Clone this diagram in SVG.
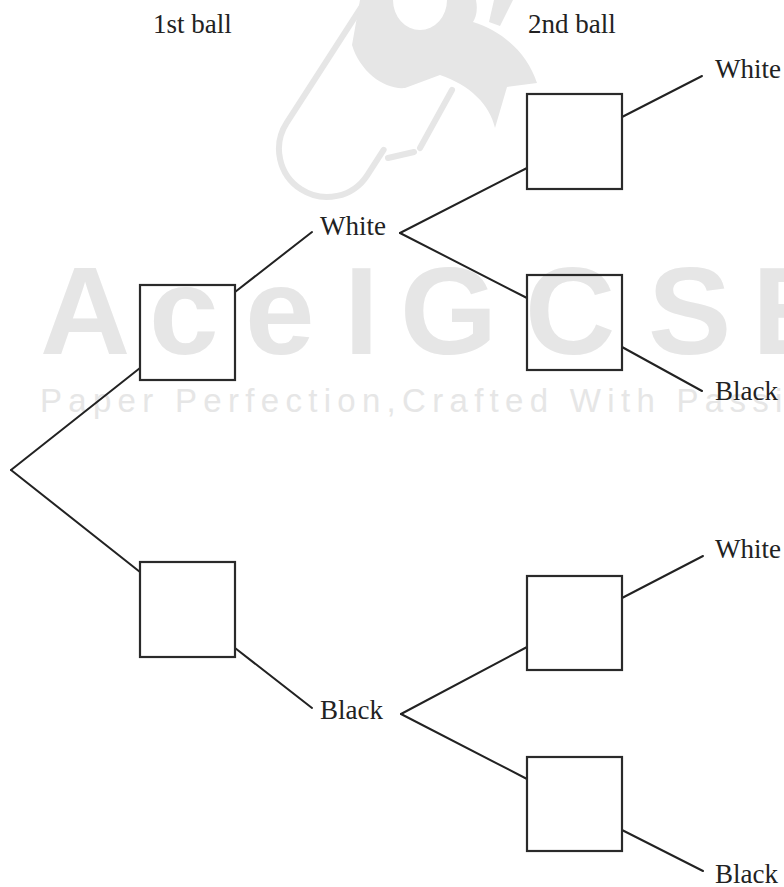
<svg xmlns="http://www.w3.org/2000/svg" width="784" height="887" viewBox="0 0 784 887">
<style>
.wm{fill:#e6e6e6}
.wms{fill:none;stroke:#e6e6e6;stroke-width:6;stroke-linecap:round;stroke-linejoin:round}
.box{fill:none;stroke:#2a2a2a;stroke-width:2.2}
.ln{stroke:#222;stroke-width:2;fill:none;stroke-linecap:round}
.lbl{font-family:"Liberation Serif","Times New Roman",serif;font-size:27px;fill:#222}
</style>
<rect width="784" height="887" fill="#fff"/>
<g id="watermark">
  <g transform="translate(327,149) rotate(32.8)">
    <path class="wms" d="M -48,-260 L -48,0 A 48,48 0 0 0 48,0 L 48,-30"/>
  </g>
  <path class="wm" d="M 360,0 L 393,0 A 27,30 0 0 0 447,0 L 476,0 C 478,10 476,18 473,22 C 505,32 528,55 537,83 L 507,87 L 495,128 C 490,105 470,85 440,75 L 405,88 C 385,90 360,72 352,45 Z"/>
  <path class="wm" d="M 494,0 L 513,0 L 500,26 L 489,22 Z"/>
  <line class="wms" x1="452" y1="90" x2="420" y2="148"/>
  <line class="wms" x1="388" y1="158" x2="414" y2="152"/>
  <text class="wm" x="40 149 245 344 400 525 648 752" y="354" style="font-family:'Liberation Sans',Arial,sans-serif;font-weight:bold;font-size:125px">AceIGCSE</text>
  <text class="wm" x="40" y="412" style="font-family:'Liberation Sans',Arial,sans-serif;font-size:33px;letter-spacing:6.3px">Paper Perfection,Crafted With Passion</text>
</g>
<g id="connectors">
  <line class="ln" x1="11" y1="470" x2="140" y2="368"/>
  <line class="ln" x1="11" y1="470" x2="140" y2="572"/>
  <line class="ln" x1="235" y1="292" x2="312" y2="232"/>
  <line class="ln" x1="400" y1="233" x2="527" y2="168"/>
  <line class="ln" x1="400" y1="233" x2="527" y2="298"/>
  <line class="ln" x1="622" y1="117" x2="702" y2="76"/>
  <line class="ln" x1="622" y1="347" x2="702" y2="391"/>
  <line class="ln" x1="235" y1="648" x2="312" y2="708"/>
  <line class="ln" x1="401" y1="714" x2="527" y2="647"/>
  <line class="ln" x1="401" y1="714" x2="527" y2="779"/>
  <line class="ln" x1="622" y1="598" x2="703" y2="556"/>
  <line class="ln" x1="622" y1="830" x2="703" y2="871"/>
</g>
<g id="headers">
  <text class="lbl" x="153" y="33">1st ball</text>
  <text class="lbl" x="528" y="33">2nd ball</text>
</g>
<g id="box-1W"><rect class="box" x="140" y="285" width="95" height="95"/></g>
<g id="box-1B"><rect class="box" x="140" y="562" width="95" height="95"/></g>
<g id="box-WW"><rect class="box" x="527" y="94" width="95" height="95"/></g>
<g id="box-WB"><rect class="box" x="527" y="275" width="95" height="95"/></g>
<g id="box-BW"><rect class="box" x="527" y="576" width="95" height="94"/></g>
<g id="box-BB"><rect class="box" x="527" y="757" width="95" height="94"/></g>
<g id="label-W1"><text class="lbl" x="320" y="235">White</text></g>
<g id="label-B1"><text class="lbl" x="320" y="719">Black</text></g>
<g id="label-WW"><text class="lbl" x="715" y="78">White</text></g>
<g id="label-WB"><text class="lbl" x="715" y="400">Black</text></g>
<g id="label-BW"><text class="lbl" x="715" y="558">White</text></g>
<g id="label-BB"><text class="lbl" x="715" y="883">Black</text></g>
</svg>
